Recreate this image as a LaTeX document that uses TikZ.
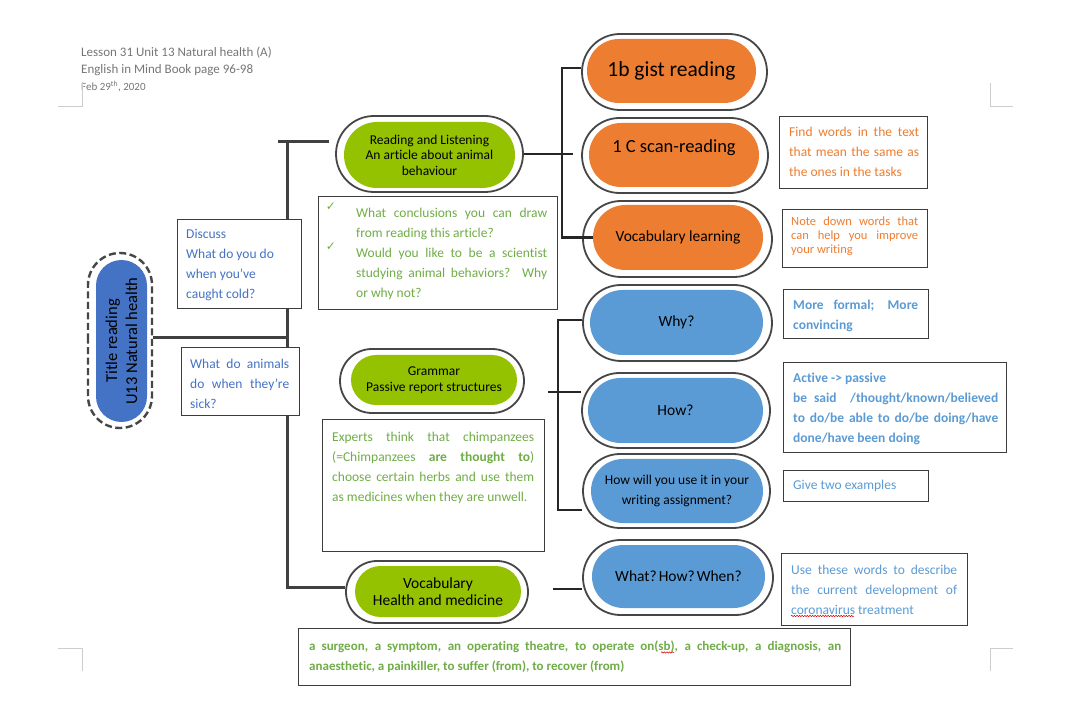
\documentclass[tikz,border=0pt]{standalone}
\usepackage{fontspec}
\setmainfont{Carlito}[Ligatures=NoCommon]
\newfontfamily\dejavu{DejaVu Sans}
\usetikzlibrary{shapes.misc,decorations.pathmorphing}
\definecolor{pgreen}{RGB}{148,193,0}
\definecolor{porange}{RGB}{237,125,49}
\definecolor{pblue}{RGB}{91,155,213}
\definecolor{titleblue}{RGB}{68,114,196}
\definecolor{tblue}{RGB}{68,114,196}
\definecolor{lblue}{RGB}{91,155,213}
\definecolor{tgreen}{RGB}{112,173,71}
\definecolor{torange}{RGB}{237,125,49}
\definecolor{ringc}{RGB}{70,70,70}
\definecolor{treec}{RGB}{64,64,64}
\definecolor{boxc}{RGB}{60,60,60}
\definecolor{headc}{RGB}{118,118,118}
\definecolor{cornc}{RGB}{205,205,205}
\newcommand\jl[2]{\makebox[#1][s]{#2}}
\newcommand\fs[2]{\fontsize{#1}{#2}\selectfont}
\begin{document}
\begin{tikzpicture}[x=1pt,y=-1pt,
  ring/.style={rounded rectangle, draw=ringc, line width=1.8pt, inner sep=0pt, fill=white},
  pill/.style={rounded rectangle, inner sep=0pt, align=center, text=black},
  box/.style={draw=boxc, line width=0.9pt, fill=white, inner sep=0pt},
  btxt/.style={anchor=north west, inner sep=0pt, align=left, font=\fs{13.5}{20}},
  tree/.style={draw=treec, line width=3pt},
  brk/.style={draw=black!85, line width=2.6pt},
  corner/.style={draw=cornc, line width=1pt},
  chk/.style={inner sep=0pt, text=tgreen, font=\dejavu\fs{12}{13}},
  wavy/.style={draw=red!85!black, line width=0.5pt, decorate, decoration={snake, amplitude=0.7pt, segment length=2.6pt}}
]
\useasboundingbox (0,0) rectangle (1080,727);

% header
\node[anchor=north west, inner sep=0pt, align=left, text=headc, font=\fs{13}{17}] (head) at (81,47)
  {Lesson 31 Unit 13 Natural health (A)\\English in Mind Book page 96-98\\{\fs{11}{15}Feb 29\textsuperscript{th}, 2020}};

% page corner marks
\draw[corner] (58,107) -- (82,107) -- (82,82);
\draw[corner] (990,83) -- (990,107) -- (1013,107);
\draw[corner] (58,648) -- (82,648) -- (82,671);
\draw[corner] (990,671) -- (990,648) -- (1013,648);

% title
\node[rounded rectangle, rotate=90, draw=ringc, line width=2.4pt, dash pattern=on 7pt off 3.5pt,
      minimum width=175pt, minimum height=64pt, inner sep=0pt] (titleo) at (120,340.5) {};
\node[pill, rotate=90, fill=titleblue, minimum width=162pt, minimum height=51pt, font=\fs{16.5}{20}] (title) at (121.5,341)
  {Title reading\\U13 Natural health};

% green pills
\node[ring, minimum width=187pt, minimum height=76pt] (rlo) at (429.5,154) {};
\node[pill, fill=pgreen, minimum width=171pt, minimum height=66pt, font=\fs{13.5}{15.5}] (rl) at (429.5,155)
  {Reading and Listening\\An article about animal\\behaviour};
\node[ring, minimum width=184pt, minimum height=64pt] (gro) at (432,381) {};
\node[pill, fill=pgreen, minimum width=166pt, minimum height=50pt, font=\fs{13.5}{16}] (gr) at (434,380)
  {Grammar\\Passive report structures};
\node[ring, minimum width=182pt, minimum height=62pt] (vco) at (437,592) {};
\node[pill, fill=pgreen, minimum width=166pt, minimum height=51pt, font=\fs{15.5}{17}] (vc) at (438,591.5)
  {Vocabulary\\Health and medicine};

% orange pills
\node[ring, minimum width=185pt, minimum height=76pt] (o1o) at (674.5,72) {};
\node[pill, fill=porange, minimum width=169pt, minimum height=64pt, font=\fs{21.5}{24}] (o1) at (671.5,71) {1b gist reading};
\node[ring, minimum width=186pt, minimum height=75pt] (o2o) at (675,155.5) {};
\node[pill, fill=porange, minimum width=170pt, minimum height=64pt, font=\fs{18.5}{22}] (o2) at (674,155) {\raisebox{18pt}{1 C scan-reading}};
\node[ring, minimum width=189pt, minimum height=76pt] (vlo) at (677.5,239) {};
\node[pill, fill=porange, minimum width=170pt, minimum height=65pt, font=\fs{15.5}{18}] (vl) at (678,237.5) {Vocabulary learning};

% blue pills
\node[ring, minimum width=189pt, minimum height=76pt] (whyo) at (677.5,323) {};
\node[pill, fill=pblue, minimum width=173pt, minimum height=65pt, font=\fs{15.5}{18}] (why) at (676.5,322.5) {Why?};
\node[ring, minimum width=188pt, minimum height=75pt] (howo) at (676,410.5) {};
\node[pill, fill=pblue, minimum width=175pt, minimum height=65pt, font=\fs{15.5}{18}] (how) at (675.5,410.5) {How?};
\node[ring, minimum width=187pt, minimum height=74pt] (hwo) at (676.5,491) {};
\node[pill, fill=pblue, minimum width=172pt, minimum height=64pt, font=\fs{13.5}{20}] (hw) at (677,491)
  {How will you use it in your\\writing assignment?};
\node[ring, minimum width=190pt, minimum height=75pt] (whato) at (678,577.5) {};
\node[pill, fill=pblue, minimum width=173pt, minimum height=63pt, font=\fs{15.5}{18}] (what) at (678.5,576.5)
  {What?\hspace{2pt}How?\hspace{2pt}When?};

% tree connectors
\coordinate (t0) at (278,142);
\coordinate (t2) at (329,142);
\coordinate (t1) at (287,142);
\coordinate (tj) at (287,338);
\coordinate (tb) at (287,587);
\draw[tree] (t0) -- (t2);
\draw[tree] (t1) -- (tb) -- (tb -| vco.west);
\draw[tree] (titleo.south |- tj) -- (tj);

% orange bracket
\coordinate (ot) at (562,68);
\coordinate (ob) at (562,237.5);
\coordinate (om) at (573,154);
\draw[brk] (rlo.east) -- (om);
\draw[brk] (ot -| o1o.west) -- (ot) -- (ob) -- (ob -| vl.west);

% blue bracket
\coordinate (bt) at (558,320);
\coordinate (bb) at (558,510);
\coordinate (bm) at (548,392);
\draw[brk] (bt -| whyo.west) -- (bt) -- (bb) -- (bb -| hwo.west);
\draw[brk] (bm) -- (bm -| howo.west);

% vocabulary to what
\coordinate (vw) at (553,589);
\draw[brk] (vw) -- (vw -| whato.west);

% boxes
\node[box, minimum width=124pt, minimum height=89pt] (dbox) at (239,263.5) {};
\node[btxt, text=tblue] (dtx) at (186,229.5) {Discuss\\What do you do\\when you’ve\\caught cold?};

\node[box, minimum width=118pt, minimum height=68pt] (abox) at (240,381) {};
\node[btxt, text=tblue] (atx) at (190,358.5) {\jl{99pt}{What do animals}\\\jl{99pt}{do when they’re}\\sick?};

\node[box, minimum width=239pt, minimum height=113pt] (cbox) at (437.5,252.5) {};
\node[btxt, text=tgreen] (ctx) at (356,207.5)
  {\jl{191pt}{What conclusions you can draw}\\from reading this article?\\\jl{191pt}{Would you like to be a scientist}\\\jl{191pt}{studying animal behaviors? Why}\\or why not?};
\node[chk] (ck1) at (331,207) {✓};
\node[chk] (ck2) at (331,247) {✓};

\node[box, minimum width=222pt, minimum height=132pt] (ebox) at (433,485) {};
\node[btxt, text=tgreen] (etx) at (332,431.5)
  {\jl{202pt}{Experts think that chimpanzees}\\\jl{202pt}{(=Chimpanzees \textbf{are thought to})}\\\jl{202pt}{choose certain herbs and use them}\\as medicines when they are unwell.};

\node[box, minimum width=148pt, minimum height=72pt] (fbox) at (853,152) {};
\node[btxt, text=torange] (ftx) at (789,126.5)
  {\jl{130pt}{Find words in the text}\\\jl{130pt}{that mean the same as}\\the ones in the tasks};

\node[box, minimum width=145pt, minimum height=58pt] (nbox) at (854.5,238) {};
\node[btxt, text=torange, font=\fs{12.5}{14}] (ntx) at (791,217)
  {\jl{127pt}{Note down words that}\\\jl{127pt}{can help you improve}\\your writing};

\node[box, minimum width=145pt, minimum height=49pt] (mbox) at (855.5,313.5) {};
\node[btxt, text=lblue, font=\bfseries\fs{13.5}{20}] (mtx) at (793,299.5)
  {\jl{125pt}{More formal; More}\\convincing};

\node[box, minimum width=223pt, minimum height=90pt] (pbox) at (894.5,407) {};
\node[btxt, text=lblue, font=\bfseries\fs{13.5}{20}] (ptx) at (793,372.5)
  {Active -> passive\\\jl{205pt}{be said \ /thought/known/believed}\\\jl{205pt}{to do/be able to do/be doing/have}\\done/have been doing};

\node[box, minimum width=145pt, minimum height=31pt] (gbox) at (855.5,485.5) {};
\node[btxt, text=lblue] (gtx) at (793,480) {Give two examples};

\node[box, minimum width=186pt, minimum height=72pt] (ubox) at (874,589) {};
\node[btxt, text=lblue] (utx) at (791,564.5)
  {\jl{166pt}{Use these words to describe}\\\jl{166pt}{the current development of}\\coronavirus treatment};
\coordinate (w1) at (791,616);
\coordinate (w2) at (854,616);
\draw[wavy] (w1) -- (w2);

\node[box, minimum width=552pt, minimum height=57pt] (vbox) at (574,656.5) {};
\node[btxt, text=tgreen, font=\bfseries\fs{13}{20}] (vtx) at (309,640.5)
  {\jl{532pt}{a surgeon, a symptom, an operating theatre, to operate on(sb), a check-up, a diagnosis, an}\\anaesthetic, a painkiller, to suffer (from), to recover (from)};
\coordinate (w3) at (661,652.5);
\coordinate (w4) at (674,652.5);
\draw[wavy] (w3) -- (w4);
\end{tikzpicture}
\end{document}
